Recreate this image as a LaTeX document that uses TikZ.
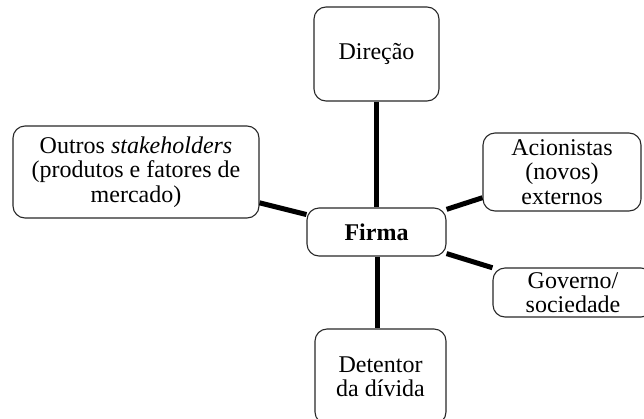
\documentclass[tikz,border=0pt]{standalone}
\usepackage{fontspec}
\setmainfont{Liberation Serif}
\usepackage{tikz}
\usetikzlibrary{positioning}
\definecolor{BoxEdge}{RGB}{40,40,40}

\begin{document}
\begin{tikzpicture}[x=1pt,y=-1pt,
        box/.style={draw=BoxEdge,line width=1.1pt,rounded corners=12pt,fill=white,
                    align=center,inner sep=0pt,
                    font=\fontsize{24}{24.5}\selectfont},
        link/.style={line width=5pt,black}
      ]
        \useasboundingbox (0,0) rectangle (644,418);
        \clip (0,0) rectangle (644,418);
        \node[box,minimum width=139pt,minimum height=48pt] (firma) at (376.5,232) {\textbf{Firma}};
        \node[box,minimum width=125pt,minimum height=94pt] (direcao) at (376.5,54) {Direção};
        \node[box,minimum width=246pt,minimum height=92pt] (outros) at (136,172)
          {Outros \textit{stakeholders}\\(produtos e fatores de\\mercado)};
        \node[box,minimum width=158pt,minimum height=78pt] (acion) at (562,172)
          {Acionistas\\(novos)\\externos};
        \node[box,minimum width=160pt,minimum height=49pt] (governo) at (573,292.5)
          {Governo/\\sociedade};
        \node[box,minimum width=131pt,minimum height=95pt] (detentor) at (380.5,376.5)
          {Detentor\\da dívida};
        \draw[link] (direcao) -- (firma); \draw[link] (outros) -- (firma);
        \draw[link] (firma) -- (acion); \draw[link] (firma) -- (governo);
        \draw[link] ([xshift=1pt]firma.south) -- ([xshift=1pt]firma.south |- detentor.north);
      \end{tikzpicture}
\end{document}
